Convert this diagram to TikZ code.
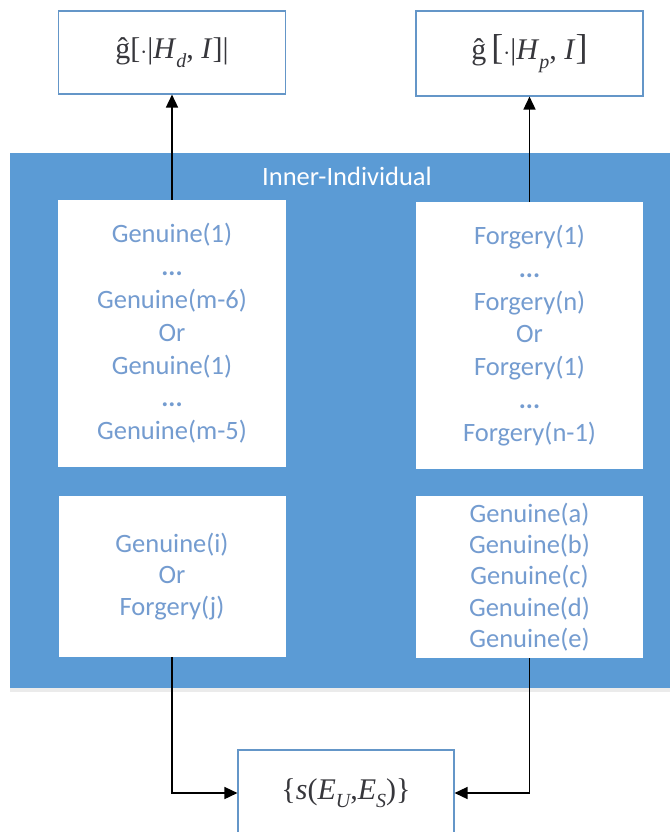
\documentclass[tikz,border=0pt]{standalone}
\usepackage{fontspec}
\setmainfont{Carlito}
\newfontfamily\formfont{Liberation Serif}
\usetikzlibrary{arrows.meta,positioning}
\definecolor{panelblue}{RGB}{91,155,213}
\definecolor{labelblue}{RGB}{116,156,208}
\definecolor{edgeblue}{RGB}{100,150,200}
\definecolor{formula}{RGB}{55,55,60}
% subscript written in the formula font
\newcommand{\lowidx}[1]{\raisebox{-0.28em}{\fontsize{20}{20}\selectfont\itshape #1}}
\begin{document}
\begin{tikzpicture}[x=1pt,y=-1pt,
  outbox/.style={draw=edgeblue,line width=1.1pt,fill=white,rectangle,inner sep=0pt,
    text=formula,font=\formfont\fontsize{30}{34}\selectfont},
  setbox/.style={fill=white,rectangle,inner sep=0pt,align=center,
    text=labelblue,font=\fontsize{26.5}{32.8}\selectfont},
  flow/.style={draw=black,line width=1.5pt,-{Triangle[length=13pt,width=12pt]}}
]
\useasboundingbox (0,0) rectangle (670,832);
\clip (0,0) rectangle (670,832);

% blue panel with a faint shadow underneath
\fill[black!8] (10,688) rectangle (670,692);
\fill[panelblue] (10,153) rectangle (670,688);
\node[text=white,font=\fontsize{26.5}{30}\selectfont] (title) at (347,176) {Inner-Individual};

% output boxes
\node[outbox,minimum width=227pt,minimum height=83pt] (gd) at (172,52.5)
  {ĝ[$\cdot$|\textit{H}\lowidx{d}, \textit{I}]|};
\node[outbox,minimum width=227pt,minimum height=85pt] (gp) at (529.5,53.5)
  {ĝ\,{\fontsize{36}{36}\selectfont[}$\cdot$|\textit{H}\lowidx{p}, \textit{I}{\fontsize{36}{36}\selectfont]}};

% sample sets inside the panel
\node[setbox,minimum width=228pt,minimum height=267pt] (gen) at (172,333.5)
  {Genuine(1)\\\textbf{...}\\Genuine(m-6)\\Or\\Genuine(1)\\\textbf{...}\\Genuine(m-5)};
\node[setbox,minimum width=227pt,minimum height=267pt] (forg) at (529.5,335.5)
  {Forgery(1)\\\textbf{...}\\Forgery(n)\\Or\\Forgery(1)\\\textbf{...}\\Forgery(n-1)};
\node[setbox,minimum width=227pt,minimum height=161pt,font=\fontsize{26.5}{31.5}\selectfont] (query) at (172,576.5)
  {Genuine(i)\\Or\\Forgery(j)};
\node[setbox,minimum width=227pt,minimum height=162pt,font=\fontsize{26.5}{31.3}\selectfont] (refs) at (529.5,577)
  {Genuine(a)\\Genuine(b)\\Genuine(c)\\Genuine(d)\\Genuine(e)};

% score box
\node[outbox,minimum width=216pt,minimum height=86pt] (score) at (346,793)
  {\{\textit{s}(\textit{E}\lowidx{U},\textit{E}\lowidx{S})\}};

% connectors
\draw[flow] (gen.north) -- (gd.south);
\draw[flow] (forg.north) -- (gp.south);
\draw[flow] (query.south) |- (score.west);
\draw[flow] (refs.south) |- (score.east);
\end{tikzpicture}
\end{document}
